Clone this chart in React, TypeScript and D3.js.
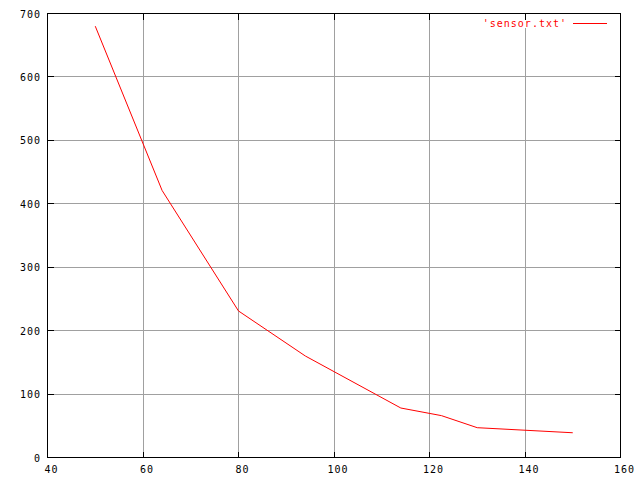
import React from "react";
import * as d3 from "d3";

const xValues = [50, 64, 80, 94, 114, 122.5, 130, 150];
const yValues = [680, 421, 231, 160, 78, 66, 47, 39];
const xTicks = [40, 60, 80, 100, 120, 140, 160];
const yTicks = [0, 100, 200, 300, 400, 500, 600, 700];
const seriesName = "'sensor.txt'";

const W = 640;
const H = 480;

export default function App() {
  const x = d3.scaleLinear().domain([40, 160]).range([47.5, 620.5]);
  const y = d3.scaleLinear().domain([0, 700]).range([457.5, 13.5]);
  const data = xValues.map((v, i) => [v, yValues[i]] as [number, number]);
  const line = d3
    .line<[number, number]>()
    .x((d) => x(d[0]))
    .y((d) => y(d[1]));

  const font = {
    fontFamily: "'DejaVu Sans Mono', monospace",
    fontSize: 10,
    letterSpacing: 1,
  } as const;

  const L = x(40);
  const R = x(160);
  const T = y(700);
  const B = y(0);
  const grid = "#a0a0a0";

  return (
    <div style={{ position: "fixed", left: 0, top: 0, width: W, height: H, background: "#fff" }}>
      <svg width={W} height={H} style={{ display: "block" }}>
        <rect x={0} y={0} width={W} height={H} fill="#fff" />
        {/* grid */}
        <g stroke={grid} strokeWidth={1} shapeRendering="crispEdges">
          {xTicks.slice(1, -1).map((t) => (
            <line key={"gx" + t} x1={x(t)} x2={x(t)} y1={T} y2={B} />
          ))}
          {yTicks.slice(1, -1).map((t) => (
            <line key={"gy" + t} x1={L} x2={R} y1={y(t)} y2={y(t)} />
          ))}
        </g>
        {/* legend background cut */}
        <rect x={478} y={18} width={134} height={10} fill="#fff" />
        {/* ticks */}
        <g stroke="#000" strokeWidth={1} shapeRendering="crispEdges">
          {xTicks.map((t) => (
            <g key={"tx" + t}>
              <line x1={x(t)} x2={x(t)} y1={B} y2={B - 6} />
              <line x1={x(t)} x2={x(t)} y1={T} y2={T + 6} />
            </g>
          ))}
          {yTicks.map((t) => (
            <g key={"ty" + t}>
              <line x1={L} x2={L + 6} y1={y(t)} y2={y(t)} />
              <line x1={R} x2={R - 6} y1={y(t)} y2={y(t)} />
            </g>
          ))}
          <rect x={L} y={T} width={R - L} height={B - T} fill="none" />
        </g>
        {/* tick labels */}
        <g {...font} fill="#000">
          {yTicks.map((t) => (
            <text key={"ly" + t} x={41} y={y(t) + 4} textAnchor="end">
              {t}
            </text>
          ))}
          {xTicks.map((t) => (
            <text key={"lx" + t} x={x(t) + 4} y={473} textAnchor="middle">
              {t}
            </text>
          ))}
        </g>
        {/* series */}
        <path d={line(data) ?? ""} fill="none" stroke="#ff0000" strokeWidth={1} />
        {/* legend */}
        <text {...font} x={567} y={27} textAnchor="end" fill="#ff0000">
          {seriesName}
        </text>
        <line x1={573} x2={607} y1={23.5} y2={23.5} stroke="#ff0000" strokeWidth={1} shapeRendering="crispEdges" />
      </svg>
    </div>
  );
}
